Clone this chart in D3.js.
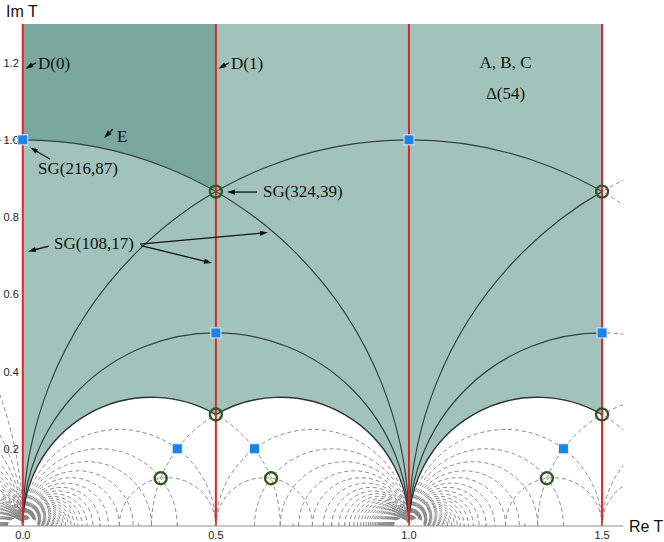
<!DOCTYPE html>
<html><head><meta charset="utf-8">
<script src="https://cdn.jsdelivr.net/npm/d3@7/dist/d3.min.js"></script>
<style>body{margin:0;background:#fff}svg{display:block}</style>
</head><body>
<svg id="c" width="664" height="542"></svg>
<script>
// ---------- data ----------
const xDomain = [-0.059, 1.555];
const yDomain = [0, 1.3];
const xTicks = [0, 0.5, 1.0, 1.5];
const xTickLabels = ["0.0", "0.5", "1.0", "1.5"];
const xMinorTicks = [0.1, 0.2, 0.3, 0.4, 0.6, 0.7, 0.8, 0.9, 1.1, 1.2, 1.3, 1.4];
const yTicks = [0.2, 0.4, 0.6, 0.8, 1.0, 1.2];
const yTickLabels = ["0.2", "0.4", "0.6", "0.8", "1.0", "1.2"];
const redLines = [0, 0.5, 1, 1.5];

// partners of the cusp 0 (arcs [0, p])
const fanZero = ["1/2","2/5","1/3","2/7","1/4","2/9","1/5","2/11","1/6","2/13","1/7","2/15","1/8","2/17","1/9","2/19","1/10","2/21","1/11","2/23","1/12","2/25","1/13","2/27","1/14","2/29","1/15","2/31","1/16","2/33","1/17","2/35","1/18","2/37","1/19","2/39","1/20","2/41","1/21","2/43","1/22","2/45","1/23","2/47","1/24","2/49","1/25"];
// other tessellation arcs with both ends in [0, 1/2]
const baseArcs = [["1/4","1/2"]];
// large arcs
const bigArcs = [["-2","0"],["-1","1"],["0","2"],["1","3"],["-1","0"],["0","1"],["1","2"],["-1","-1/3"],["-2/3","0"],["0","2/3"],["1/3","1"],["1","5/3"],["4/3","2"]];
const solidArcs = [["-1","1"],["0","2"],["1","3"],["0","1"],["1","2"]];
// lower boundary of the shaded region: [centre, radius, from x, to x]
const boundaryArcs = [["1/3","1/3",0,0.5],["2/3","1/3",0.5,1],["4/3","1/3",1,1.5]];
const darkArc = ["0","1",0,0.5];
const yTop = 1.3;

const iPoints = [[0,1],[1,1],[0.5,0.5],[1.5,0.5],[0.4,0.2],[0.6,0.2],[1.4,0.2]];
const rhoPoints = [[0.5,0.8660],[1.5,0.8660],[0.5,0.2887],[1.5,0.2887],[0.3571,0.1237],[0.6429,0.1237],[1.3571,0.1237]];

const texts = [
 {t:"D(0)", x:0.0394, y:1.1833, a:"start"},
 {t:"D(1)", x:0.5391, y:1.1833, a:"start"},
 {t:"E", x:0.2439, y:0.9943, a:"start"},
 {t:"SG(216,87)", x:0.0394, y:0.9114, a:"start"},
 {t:"SG(324,39)", x:0.6219, y:0.8519, a:"start"},
 {t:"SG(108,17)", x:0.0808, y:0.7172, a:"start"},
 {t:"A, B, C", x:1.25, y:1.186, a:"middle"},
 {t:"\u0394(54)", x:1.25, y:1.1056, a:"middle"}
];
const arrows = [
 [[0.0342,1.1997],[0.0070,1.1839]],
 [[0.5339,1.1997],[0.5067,1.1839]],
 [[0.2336,1.0280],[0.2103,1.0047]],
 [[0.0704,0.9503],[0.0186,0.9801]],
 [[0.6064,0.8648],[0.5287,0.8648]],
 [[0.0678,0.7250],[0.0135,0.7108]],
 [[0.3035,0.7302],[0.6349,0.7600]],
 [[0.3061,0.7263],[0.4899,0.6810]]
];

// ---------- drawing ----------
const svg = d3.select("#c");
const x = d3.scaleLinear().domain(xDomain).range([0, 623.3]);
const y = d3.scaleLinear().domain(yDomain).range([526, 24]);
const kx = x(1) - x(0), ky = y(0) - y(1);
const F = s => { if (typeof s === "number") return s; const [p, q] = String(s).split("/").map(Number); return q === undefined ? p : p / q; };

function fullArc(a, b) {
  const r = (b - a) / 2;
  return `M${x(a)},${y(0)}A${r * kx},${r * ky} 0 0 1 ${x(b)},${y(0)}`;
}
function arcSeg(c, r, x0, x1, move) {
  const y0 = Math.sqrt(Math.max(0, r * r - (x0 - c) ** 2));
  const y1 = Math.sqrt(Math.max(0, r * r - (x1 - c) ** 2));
  return (move ? `M${x(x0)},${y(y0)}` : "") + `A${r * kx},${r * ky} 0 0 1 ${x(x1)},${y(y1)}`;
}

const defs = svg.append("defs");
defs.append("clipPath").attr("id", "plotClip").append("rect")
  .attr("x", 0).attr("y", y(yTop)).attr("width", x(xDomain[1])).attr("height", y(0) - y(yTop));

// all dashed arcs
const dashed = [];
const shifts = [-1, 0, 1];
const addArc = (a, b) => {
  shifts.forEach(n => {
    dashed.push([a + n, b + n]);
    dashed.push([1 - b + n, 1 - a + n]);
  });
};
fanZero.forEach(p => addArc(0, F(p)));
baseArcs.forEach(([a, b]) => addArc(F(a), F(b)));
const visible = dashed.filter(([a, b]) => b > xDomain[0] - 0.001 && a < xDomain[1] + 0.001);
bigArcs.forEach(([a, b]) => visible.push([F(a), F(b)]));

const gDash = svg.append("g").attr("clip-path", "url(#plotClip)");
gDash.selectAll("path").data(visible).join("path")
  .attr("d", d => fullArc(d[0], d[1]))
  .attr("fill", "none").attr("stroke", "#8a8a8a").attr("stroke-width", 1)
  .attr("stroke-dasharray", "4,3");

// shaded regions
let region = `M${x(0)},${y(yTop)}L${x(0)},${y(0)}`;
boundaryArcs.forEach(([c, r, a, b]) => { region += arcSeg(F(c), F(r), a, b, false); });
region += `L${x(1.5)},${y(yTop)}Z`;
defs.append("clipPath").attr("id", "regClip").append("path").attr("d", region);
svg.append("path").attr("d", region).attr("fill", "#a2c3bb");

const dark = `M${x(0)},${y(yTop)}L${x(0)},${y(1)}` + arcSeg(F(darkArc[0]), F(darkArc[1]), darkArc[2], darkArc[3], false) + `L${x(0.5)},${y(yTop)}Z`;
svg.append("path").attr("d", dark).attr("fill", "#7aa89e");

// solid arcs inside region
svg.append("g").attr("clip-path", "url(#regClip)").selectAll("path").data(solidArcs).join("path")
  .attr("d", d => fullArc(F(d[0]), F(d[1])))
  .attr("fill", "none").attr("stroke", "#33413e").attr("stroke-width", 1.2);
let bpath = "";
boundaryArcs.forEach(([c, r, a, b]) => { bpath += arcSeg(F(c), F(r), a, b, true); });
svg.append("path").attr("d", bpath).attr("fill", "none").attr("stroke", "#2c3533").attr("stroke-width", 1.4);

// red lines
svg.selectAll("line.red").data(redLines).join("line").attr("class", "red")
  .attr("x1", d => x(d)).attr("x2", d => x(d)).attr("y1", y(0)).attr("y2", y(yTop))
  .attr("stroke", "#e2232d").attr("stroke-width", 2);

// axes
svg.append("line").attr("x1", x(xDomain[0])).attr("x2", x(xDomain[1])).attr("y1", y(0)).attr("y2", y(0))
  .attr("stroke", "#8f8f8f").attr("stroke-width", 1);
svg.selectAll("line.xmin").data(xMinorTicks).join("line").attr("class", "xmin")
  .attr("x1", d => x(d)).attr("x2", d => x(d)).attr("y1", y(0)).attr("y2", y(0) - 2.5)
  .attr("stroke", "#8f8f8f").attr("stroke-width", 1);
svg.selectAll("line.xmaj").data(xTicks).join("line").attr("class", "xmaj")
  .attr("x1", d => x(d)).attr("x2", d => x(d)).attr("y1", y(0)).attr("y2", y(0) - 4)
  .attr("stroke", "#8f8f8f").attr("stroke-width", 1);
svg.selectAll("text.xt").data(xTicks).join("text").attr("class", "xt")
  .attr("x", d => x(d)).attr("y", y(0) + 13).attr("text-anchor", "middle")
  .attr("font-family", "Liberation Sans, Arial, sans-serif").attr("font-size", 11).attr("fill", "#222")
  .text((d, i) => xTickLabels[i]);
svg.selectAll("text.yt").data(yTicks).join("text").attr("class", "yt")
  .attr("x", x(0) - 4).attr("y", d => y(d) + 4).attr("text-anchor", "end")
  .attr("font-family", "Liberation Sans, Arial, sans-serif").attr("font-size", 11).attr("fill", "#222")
  .text((d, i) => yTickLabels[i]);
svg.append("text").attr("x", 6).attr("y", 17).attr("font-family", "Liberation Sans, Arial, sans-serif")
  .attr("font-size", 16).attr("fill", "#111").text("Im T");
svg.append("text").attr("x", 629).attr("y", 532).attr("font-family", "Liberation Sans, Arial, sans-serif")
  .attr("font-size", 16).attr("fill", "#111").text("Re T");

// markers
svg.selectAll("circle.rho").data(rhoPoints).join("circle").attr("class", "rho")
  .attr("cx", d => x(d[0])).attr("cy", d => y(d[1])).attr("r", 6)
  .attr("fill", "none").attr("stroke", "#2e5a22").attr("stroke-width", 2.4);
svg.selectAll("rect.ip").data(iPoints).join("rect").attr("class", "ip")
  .attr("x", d => x(d[0]) - 5).attr("y", d => y(d[1]) - 5).attr("width", 10).attr("height", 10)
  .attr("fill", "#1a84e8").attr("stroke", "#dfeaf3").attr("stroke-width", 1);

// annotations
svg.selectAll("text.lab").data(texts).join("text").attr("class", "lab")
  .attr("x", d => x(d.x)).attr("y", d => y(d.y)).attr("text-anchor", d => d.a)
  .attr("font-family", "Liberation Serif, Times New Roman, serif").attr("font-size", 17).attr("fill", "#111")
  .text(d => d.t);
const gA = svg.append("g");
arrows.forEach(([p0, p1]) => {
  const X0 = x(p0[0]), Y0 = y(p0[1]), X1 = x(p1[0]), Y1 = y(p1[1]);
  const L = Math.hypot(X1 - X0, Y1 - Y0), ux = (X1 - X0) / L, uy = (Y1 - Y0) / L;
  const hl = 8, hw = 2.6;
  const bx = X1 - ux * hl, by = Y1 - uy * hl;
  gA.append("line").attr("x1", X0).attr("y1", Y0).attr("x2", bx + ux).attr("y2", by + uy)
    .attr("stroke", "#111").attr("stroke-width", 1.3);
  gA.append("path").attr("d", `M${X1},${Y1}L${bx - uy * hw},${by + ux * hw}L${bx + uy * hw},${by - ux * hw}Z`).attr("fill", "#111");
});
</script>
</body></html>
